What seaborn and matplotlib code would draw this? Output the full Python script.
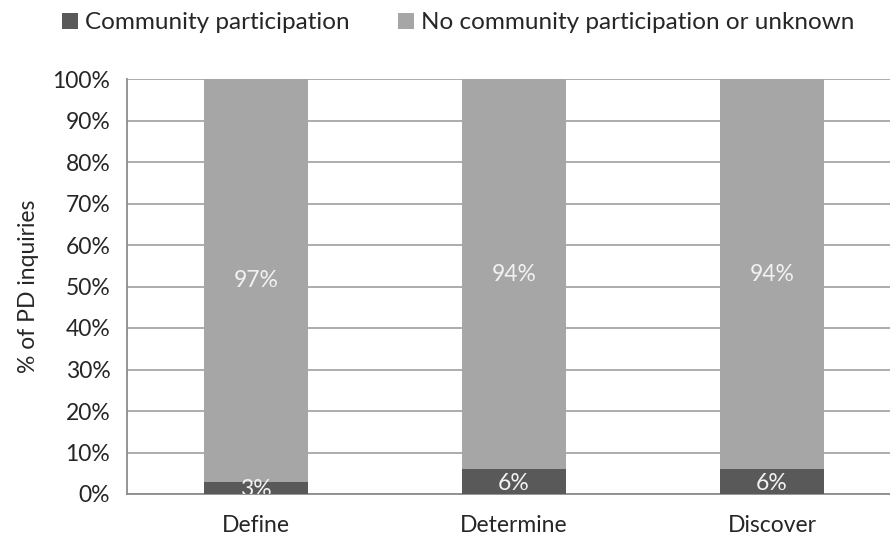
import matplotlib
matplotlib.use("Agg")
import matplotlib.pyplot as plt
import seaborn as sns
import pandas as pd
from matplotlib.patches import Patch
from matplotlib.ticker import FixedLocator

# Inquiry stages and share of inquiries (%)
stages = ["Define", "Determine", "Discover"]
community = [3, 6, 6]
no_community = [97, 94, 94]
y_ticks = [0, 10, 20, 30, 40, 50, 60, 70, 80, 90, 100]
series_names = ["Community participation", "No community participation or unknown"]

dark = "#595959"
light = "#a6a6a6"
grid_c = "#a6a6a6"
axis_c = "#8c8c8c"
text_c = "#262626"
fs = 16.5

sns.set_theme(style="white")
plt.rcParams["font.family"] = ["Lato", "DejaVu Sans"]

df = pd.DataFrame({"stage": stages, "community": community,
                   "none": no_community})
df["total"] = df["community"] + df["none"]

fig = plt.figure(figsize=(8.9, 5.4), dpi=100)
ax = fig.add_axes([127 / 890, 46 / 540, 774 / 890, 415 / 540])

# Stacked bars: full column first, then the lower segment on top of it
sns.barplot(data=df, x="stage", y="total", color=light, width=0.4,
            saturation=1, edgecolor="none", linewidth=0, ax=ax, zorder=2)
sns.barplot(data=df, x="stage", y="community", color=dark, width=0.4,
            saturation=1, edgecolor="none", linewidth=0, ax=ax, zorder=3)

ax.set_xlim(-0.5, 2.5)
ax.set_ylim(0, 100)
ax.set_yticks(y_ticks)
ax.set_yticklabels([f"{t}%" for t in y_ticks])
ax.yaxis.grid(True, color=grid_c, linewidth=1.3, zorder=0)
ax.set_axisbelow(True)

for side in ["top", "right"]:
    ax.spines[side].set_visible(False)
for side in ["left", "bottom"]:
    ax.spines[side].set_color(axis_c)
    ax.spines[side].set_linewidth(1.3)

ax.tick_params(axis="y", direction="out", length=7, width=1.3, color=axis_c,
               labelsize=fs, labelcolor=text_c, pad=5)
ax.tick_params(axis="x", which="major", length=0, labelsize=fs,
               labelcolor=text_c, pad=15)
ax.xaxis.set_minor_locator(FixedLocator([-0.5, 0.5, 1.5, 2.5]))
ax.tick_params(axis="x", which="minor", direction="out", length=9, width=1.3,
               color=axis_c)

ax.set_xlabel("")
ax.set_ylabel("% of PD inquiries", fontsize=fs, color=text_c, labelpad=10)

# Value labels centered in each segment
for i, (c, n) in enumerate(zip(community, no_community)):
    ax.text(i, c / 2 - 0.4, f"{c}%", ha="center", va="center", fontsize=fs,
            color="#f2f2f2", clip_on=True, zorder=4)
    ax.text(i, c + n / 2, f"{n}%", ha="center", va="center", fontsize=fs,
            color="#f2f2f2", clip_on=True, zorder=4)

handles = [Patch(facecolor=dark, edgecolor="none"),
           Patch(facecolor=light, edgecolor="none")]
fig.legend(handles, series_names, loc="center", bbox_to_anchor=(0.515, 0.958),
           ncol=2, frameon=False, fontsize=17.5, handlelength=0.65,
           handleheight=0.65, handletextpad=0.3, columnspacing=2.0,
           labelcolor=text_c)

fig.savefig("out.png", dpi=100)
